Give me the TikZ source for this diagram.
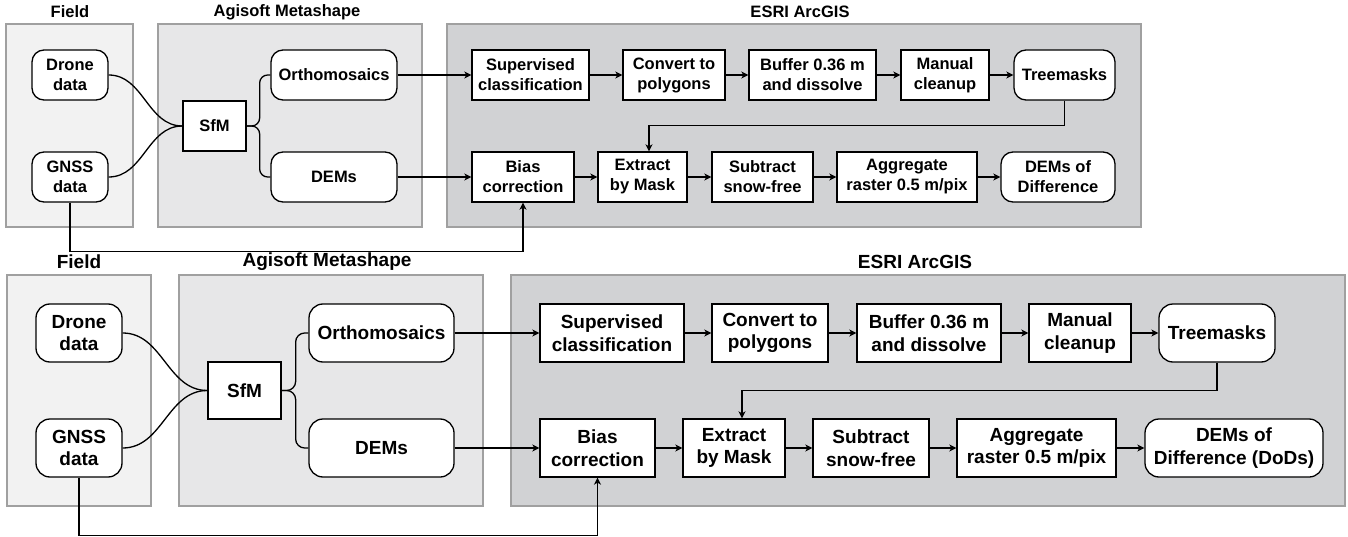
\documentclass[tikz,border=0pt]{standalone}
\usepackage{fontspec}
\setmainfont{Liberation Sans}
\usetikzlibrary{arrows.meta}
\definecolor{fieldfill}{RGB}{242,242,242}
\definecolor{agifill}{RGB}{231,231,232}
\definecolor{esrifill}{RGB}{209,210,212}
\definecolor{panelline}{RGB}{160,160,160}
\tikzset{
  panel/.style={draw=panelline, line width=1.5pt},
  sqbox/.style={draw, fill=white, line width=1.3pt, align=center, inner sep=0pt},
  rbox/.style={sqbox, rounded corners=12pt},
  topf/.style={font=\fontsize{16.5}{20}\selectfont\bfseries},
  botf/.style={font=\fontsize{19}{22.5}\selectfont\bfseries},
  ttl/.style={font=\fontsize{16.5}{20}\selectfont\bfseries},
  bttl/.style={font=\fontsize{19}{22.5}\selectfont\bfseries},
  link/.style={line width=1.3pt},
  arr/.style={line width=1.3pt, -{Stealth[length=7pt,width=7pt,inset=2pt]}}
}
\begin{document}
\begin{tikzpicture}[x=1pt,y=-1pt]
\useasboundingbox (0,0) rectangle (1348,537);
% ================= TOP DIAGRAM =================
\draw[panel, fill=fieldfill] (6,24) rectangle (133,227);
\draw[panel, fill=agifill] (158,24) rectangle (422,227);
\draw[panel, fill=esrifill] (447,24) rectangle (1141,227);
\node[ttl] (ttfield) at (70,12) {Field};
\node[ttl] (ttagi) at (287,12) {Agisoft Metashape};
\node[ttl] (ttesri) at (800,12) {ESRI ArcGIS};

\node[rbox,topf,minimum width=76pt,minimum height=50pt] (tdrone) at (70,75) {Drone\\data};
\node[rbox,topf,minimum width=76pt,minimum height=50pt] (tgnss) at (70,177) {GNSS\\data};
\node[sqbox,topf,minimum width=63pt,minimum height=50pt] (tsfm) at (214.5,126) {SfM};
\node[rbox,topf,minimum width=126pt,minimum height=50pt] (tortho) at (334,75) {Orthomosaics};
\node[rbox,topf,minimum width=126pt,minimum height=50pt] (tdems) at (334,177) {DEMs};

\node[sqbox,topf,minimum width=117pt,minimum height=50pt] (tsup) at (530.5,75) {Supervised\\classification};
\node[sqbox,topf,minimum width=102pt,minimum height=50pt] (tconv) at (674,75) {Convert to\\polygons};
\node[sqbox,topf,minimum width=127pt,minimum height=50pt] (tbuf) at (812.5,75) {Buffer 0.36 m\\and dissolve};
\node[sqbox,topf,minimum width=88pt,minimum height=50pt] (tman) at (945,75) {Manual\\cleanup};
\node[rbox,topf,minimum width=101pt,minimum height=50pt] (ttree) at (1064.5,75) {Treemasks};

\node[sqbox,topf,minimum width=102pt,minimum height=50pt] (tbias) at (523,177) {Bias\\correction};
\node[sqbox,topf,minimum width=89pt,minimum height=50pt] (text) at (642.5,177) {Extract\\by Mask};
\node[sqbox,topf,minimum width=101pt,minimum height=50pt] (tsub) at (762.5,177) {Subtract\\snow-free};
\node[sqbox,topf,minimum width=140pt,minimum height=50pt] (tagg) at (907,177) {Aggregate\\raster 0.5 m/pix};
\node[rbox,topf,minimum width=114pt,minimum height=50pt] (tdod) at (1058,177) {DEMs of\\Difference};

\draw[link] (tdrone.east) to[out=0,in=180] (tsfm.west);
\draw[link] (tgnss.east) to[out=0,in=180] (tsfm.west);
\draw[link, rounded corners=8pt] (tsfm.east) -- ++(13,0) |- (tortho.west);
\draw[link, rounded corners=8pt] (tsfm.east) -- ++(13,0) |- (tdems.west);
\draw[arr] (tortho.east) -- (tsup.west);
\draw[arr] (tsup.east) -- (tconv.west);
\draw[arr] (tconv.east) -- (tbuf.west);
\draw[arr] (tbuf.east) -- (tman.west);
\draw[arr] (tman.east) -- (ttree.west);
\draw[arr] (tdems.east) -- (tbias.west);
\draw[arr] (tbias.east) -- (text.west);
\draw[arr] (text.east) -- (tsub.west);
\draw[arr] (tsub.east) -- (tagg.west);
\draw[arr] (tagg.east) -- (tdod.west);
\draw[arr] (ttree.south) -- ++(0,25) -| ([xshift=6.5pt]text.north);
\draw[arr] (tgnss.south) -- ++(0,49) -| (tbias.south);

% ================= BOTTOM DIAGRAM =================
\draw[panel, fill=fieldfill] (7,275) rectangle (151,506);
\draw[panel, fill=agifill] (179,275) rectangle (483,506);
\draw[panel, fill=esrifill] (511,275) rectangle (1345,506);
\node[bttl] (btfield) at (79,262) {Field};
\node[bttl] (btagi) at (327,262) {Agisoft Metashape};
\node[bttl] (btesri) at (915,262) {ESRI ArcGIS};

\node[rbox,botf,rounded corners=14pt,minimum width=86pt,minimum height=58pt] (bdrone) at (79,333) {Drone\\data};
\node[rbox,botf,rounded corners=14pt,minimum width=86pt,minimum height=58pt] (bgnss) at (79,448) {GNSS\\data};
\node[sqbox,botf,minimum width=73pt,minimum height=57pt] (bsfm) at (244.5,390.5) {SfM};
\node[rbox,botf,rounded corners=14pt,minimum width=145pt,minimum height=58pt] (bortho) at (381.5,333) {Orthomosaics};
\node[rbox,botf,rounded corners=14pt,minimum width=145pt,minimum height=58pt] (bdems) at (381.5,448) {DEMs};

\node[sqbox,botf,minimum width=144pt,minimum height=58pt] (bsup) at (612,333) {Supervised\\classification};
\node[sqbox,botf,minimum width=116pt,minimum height=58pt] (bconv) at (770,333) {Convert to\\polygons};
\node[sqbox,botf,minimum width=144pt,minimum height=58pt] (bbuf) at (929,333) {Buffer 0.36 m\\and dissolve};
\node[sqbox,botf,minimum width=102pt,minimum height=58pt] (bman) at (1080,333) {Manual\\cleanup};
\node[rbox,botf,rounded corners=14pt,minimum width=116pt,minimum height=58pt] (btree) at (1217,333) {Treemasks};

\node[sqbox,botf,minimum width=115pt,minimum height=58pt] (bbias) at (597.5,448) {Bias\\correction};
\node[sqbox,botf,minimum width=102pt,minimum height=58pt] (bext) at (734,448) {Extract\\by Mask};
\node[sqbox,botf,minimum width=116pt,minimum height=58pt] (bsub) at (871,448) {Subtract\\snow-free};
\node[sqbox,botf,minimum width=159pt,minimum height=58pt] (bagg) at (1036.5,448) {Aggregate\\raster 0.5 m/pix};
\node[rbox,botf,rounded corners=14pt,minimum width=178pt,minimum height=58pt] (bdod) at (1234,448) {DEMs of\\Difference (DoDs)};

\draw[link] (bdrone.east) to[out=0,in=180] (bsfm.west);
\draw[link] (bgnss.east) to[out=0,in=180] (bsfm.west);
\draw[link, rounded corners=9pt] (bsfm.east) -- ++(14,0) |- (bortho.west);
\draw[link, rounded corners=9pt] (bsfm.east) -- ++(14,0) |- (bdems.west);
\draw[arr] (bortho.east) -- (bsup.west);
\draw[arr] (bsup.east) -- (bconv.west);
\draw[arr] (bconv.east) -- (bbuf.west);
\draw[arr] (bbuf.east) -- (bman.west);
\draw[arr] (bman.east) -- (btree.west);
\draw[arr] (bdems.east) -- (bbias.west);
\draw[arr] (bbias.east) -- (bext.west);
\draw[arr] (bext.east) -- (bsub.west);
\draw[arr] (bsub.east) -- (bagg.west);
\draw[arr] (bagg.east) -- (bdod.west);
\draw[arr] (btree.south) -- ++(0,28) -| ([xshift=8pt]bext.north);
\draw[arr] (bgnss.south) -- ++(0,58) -| (bbias.south);
\end{tikzpicture}
\end{document}
